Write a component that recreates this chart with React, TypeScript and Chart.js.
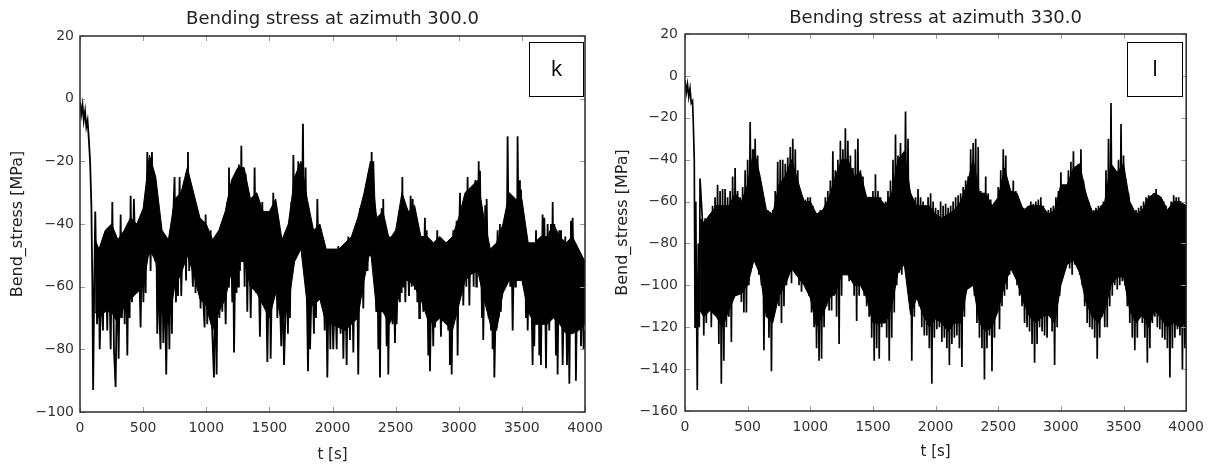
import React, { useEffect, useRef } from "react";
import { Chart, registerables } from "chart.js";

Chart.register(...registerables);

const FONT = "'DejaVu Sans', 'Liberation Sans', sans-serif";

const X_TICKS = [0, 500, 1000, 1500, 2000, 2500, 3000, 3500, 4000];
const LEFT_Y_TICKS = [-100, -80, -60, -40, -20, 0, 20];
const RIGHT_Y_TICKS = [-160, -140, -120, -100, -80, -60, -40, -20, 0, 20];

// ---- azimuth 300.0 (left panel): time [s] and bending stress [MPa]
const leftT = [
  0, 10, 20, 30, 40, 50, 60, 70, 80, 90,
  98, 104, 114, 121, 135, 148, 156, 170, 182, 190,
  200, 216, 227, 243, 256, 269, 282, 295, 306, 322,
  332, 340, 354, 365, 375, 385, 393, 401, 412, 427,
  437, 446, 459, 470, 480, 491, 502, 512, 520, 533,
  543, 551, 559, 570, 580, 586, 596, 604, 612, 622,
  630, 638, 649, 660, 670, 683, 697, 708, 718, 728,
  738, 749, 760, 770, 776, 789, 802, 815, 828, 840,
  848, 855, 865, 874, 881, 894, 905, 915, 925, 935,
  944, 955, 966, 977, 987, 995, 1008, 1021, 1028, 1035,
  1048, 1061, 1072, 1082, 1093, 1104, 1114, 1127, 1137, 1154,
  1167, 1174, 1180, 1187, 1193, 1206, 1213, 1220, 1233, 1240,
  1246, 1254, 1259, 1267, 1278, 1286, 1294, 1304, 1312, 1325,
  1338, 1352, 1365, 1373, 1383, 1396, 1410, 1425, 1444, 1457,
  1468, 1484, 1502, 1510, 1531, 1542, 1550, 1563, 1576, 1594,
  1605, 1616, 1637, 1647, 1655, 1663, 1674, 1682, 1690, 1700,
  1708, 1719, 1729, 1737, 1748, 1758, 1766, 1774, 1787, 1796,
  1806, 1816, 1822, 1840, 1853, 1858, 1869, 1880, 1893, 1906,
  1919, 1927, 1938, 1948, 1959, 1972, 1983, 1990, 2006, 2020,
  2033, 2046, 2064, 2075, 2086, 2099, 2112, 2125, 2138, 2152,
  2165, 2178, 2186, 2191, 2204, 2218, 2224, 2231, 2244, 2257,
  2265, 2270, 2278, 2284, 2292, 2297, 2305, 2310, 2318, 2323,
  2336, 2346, 2356, 2363, 2370, 2376, 2389, 2397, 2402, 2409,
  2416, 2429, 2437, 2442, 2455, 2463, 2468, 2476, 2482, 2495,
  2502, 2508, 2526, 2534, 2540, 2548, 2553, 2561, 2566, 2577,
  2587, 2606, 2619, 2627, 2635, 2653, 2666, 2672, 2680, 2687,
  2693, 2700, 2706, 2712, 2719, 2732, 2739, 2746, 2759, 2765,
  2772, 2785, 2798, 2805, 2812, 2830, 2838, 2846, 2859, 2870,
  2878, 2891, 2898, 2904, 2917, 2925, 2930, 2938, 2944, 2957,
  2970, 2983, 2991, 3000, 3010, 3018, 3026, 3036, 3052, 3060,
  3070, 3084, 3097, 3105, 3110, 3118, 3123, 3128, 3131, 3139,
  3144, 3152, 3158, 3163, 3168, 3184, 3189, 3194, 3210, 3216,
  3221, 3237, 3245, 3255, 3263, 3268, 3276, 3282, 3295, 3308,
  3316, 3326, 3334, 3342, 3348, 3353, 3361, 3369, 3379, 3387,
  3395, 3400, 3408, 3418, 3427, 3440, 3448, 3453, 3461, 3466,
  3474, 3480, 3485, 3493, 3501, 3506, 3519, 3527, 3532, 3540,
  3546, 3554, 3559, 3572, 3585, 3593, 3598, 3612, 3625, 3633,
  3638, 3646, 3651, 3664, 3672, 3678, 3691, 3704, 3717, 3730,
  3738, 3744, 3751, 3757, 3770, 3778, 3783, 3796, 3804, 3810,
  3823, 3836, 3844, 3857, 3868, 3876, 3889, 3897, 3902, 3915,
  3923, 3928, 3942, 3955, 3960, 3968, 3981, 3989, 4000,
];
const leftV = [
  -1, -5, -2, -7, -4, -9, -7, -13, -20, -34,
  -60, -93, -55, -36, -72, -50, -80, -58, -74, -52,
  -43, -74, -46, -80, -33, -80, -92, -52, -83, -37,
  -70, -46, -72, -50, -82, -45, -70, -31, -65, -32,
  -48, -61, -40, -55, -73, -44, -65, -40, -62, -17,
  -50, -20, -55, -17, -45, -24, -52, -38, -75, -45,
  -70, -80, -45, -78, -55, -88, -50, -80, -42, -75,
  -38, -25, -65, -35, -63, -25, -63, -40, -29, -58,
  -35, -17, -55, -28, -45, -60, -35, -62, -40, -55,
  -40, -67, -42, -65, -73, -37, -72, -48, -70, -42,
  -75, -89, -55, -88, -43, -70, -50, -68, -45, -72,
  -33, -60, -22, -55, -33, -65, -45, -81, -42, -62,
  -30, -60, -21, -55, -15, -50, -29, -60, -24, -68,
  -35, -70, -35, -60, -22, -62, -40, -76, -33, -65,
  -42, -84, -39, -83, -30, -62, -34, -70, -53, -79,
  -58, -85, -55, -75, -52, -70, -33, -55, -18, -48,
  -26, -50, -20, -45, -22, -40, -8, -50, -22, -60,
  -87, -55, -80, -52, -75, -45, -70, -32, -62, -43,
  -60, -45, -74, -52, -89, -52, -80, -53, -80, -58,
  -80, -47, -75, -52, -83, -50, -85, -44, -77, -48,
  -81, -41, -65, -41, -88, -35, -60, -40, -67, -29,
  -55, -30, -55, -24, -50, -23, -48, -17, -45, -20,
  -38, -68, -50, -80, -55, -89, -35, -65, -32, -62,
  -41, -79, -55, -88, -44, -70, -47, -72, -50, -78,
  -55, -72, -44, -65, -37, -62, -25, -60, -36, -65,
  -41, -63, -31, -60, -32, -61, -43, -65, -42, -70,
  -55, -45, -64, -50, -68, -38, -65, -42, -82, -55,
  -87, -52, -79, -55, -73, -42, -70, -47, -76, -50,
  -71, -46, -70, -50, -74, -55, -85, -55, -88, -42,
  -70, -39, -82, -50, -30, -62, -39, -66, -33, -60,
  -25, -66, -33, -55, -28, -60, -38, -55, -26, -60,
  -33, -55, -20, -50, -23, -70, -50, -77, -34, -60,
  -32, -70, -50, -74, -55, -80, -60, -89, -62, -42,
  -70, -40, -68, -42, -62, -41, -60, -39, -55, -12,
  -45, -31, -60, -45, -74, -39, -60, -35, -55, -12,
  -45, -26, -50, -29, -55, -36, -58, -45, -70, -50,
  -74, -55, -67, -52, -85, -58, -79, -42, -72, -55,
  -82, -55, -85, -37, -62, -38, -86, -40, -74, -40,
  -62, -33, -62, -40, -82, -55, -88, -42, -65, -42,
  -85, -55, -44, -85, -60, -91, -39, -65, -38, -74,
  -55, -90, -48, -70, -50, -79, -55, -80, -74,
];

// times at which the dense (solid black) core of each trace was read
const coreT = [
  120, 150, 200, 250, 300, 350, 400, 450, 500, 550,
  600, 650, 700, 750, 800, 850, 900, 950, 1000, 1050,
  1100, 1150, 1200, 1250, 1300, 1350, 1400, 1450, 1500, 1550,
  1600, 1650, 1700, 1750, 1800, 1850, 1900, 1950, 2000, 2050,
  2100, 2150, 2200, 2250, 2300, 2350, 2400, 2450, 2500, 2550,
  2600, 2650, 2700, 2750, 2800, 2850, 2900, 2950, 3000, 3050,
  3100, 3150, 3200, 3250, 3300, 3350, 3400, 3450, 3500, 3550,
  3600, 3650, 3700, 3750, 3800, 3850, 3900, 3950, 4000,
];
const leftCoreTop = [
  -45, -48, -42, -40, -45, -42, -38, -40, -35, -18,
  -25, -42, -45, -32, -30, -22, -30, -38, -40, -45,
  -42, -36, -26, -22, -22, -32, -30, -36, -36, -32,
  -45, -40, -25, -20, -32, -42, -40, -48, -48, -48,
  -46, -44, -38, -30, -20, -38, -36, -45, -42, -30,
  -36, -34, -44, -44, -46, -44, -46, -44, -38, -30,
  -28, -26, -38, -48, -46, -40, -30, -32, -32, -46,
  -46, -44, -44, -40, -44, -46, -44, -48, -52,
];
const leftCoreBottom = [
  -68, -70, -68, -68, -72, -66, -64, -62, -60, -48,
  -52, -68, -72, -60, -56, -50, -56, -64, -66, -74,
  -68, -64, -55, -52, -52, -60, -62, -66, -70, -62,
  -72, -66, -52, -48, -66, -66, -64, -72, -72, -73,
  -74, -72, -70, -58, -48, -68, -68, -72, -68, -58,
  -58, -60, -64, -70, -72, -70, -72, -74, -66, -58,
  -56, -55, -64, -72, -74, -62, -58, -58, -58, -68,
  -72, -72, -72, -70, -72, -75, -75, -74, -72,
];

// ---- azimuth 330.0 (right panel)
// start-up transient
const rightStartT = [0, 10, 20, 30, 40, 50, 60, 66, 74, 80, 86, 92, 98, 106, 114, 120];
const rightStartV = [-2, -8, -4, -10, -6, -13, -12, -22, -40, -120, -60, -110, -150, -80, -120, -49];
// every 20 s from 140 s to 3980 s: upper and lower excursion of the signal in that slot
const rightSlotStart = 140;
const rightSlotStep = 20;
const rightUpper = [
  -70, -68, -69, -66, -62, -58, -52, -55, -54, -54,
  -58, -55, -48, -44, -55, -58, -53, -45, -40, -22,
  -35, -30, -38, -52, -58, -62, -64, -66, -64, -55,
  -41, -40, -40, -42, -39, -34, -30, -35, -45, -56,
  -58, -59, -58, -58, -62, -65, -66, -64, -64, -58,
  -55, -50, -36, -45, -40, -31, -35, -25, -31, -38,
  -44, -35, -30, -45, -48, -58, -62, -58, -55, -47,
  -55, -58, -62, -60, -55, -50, -40, -28, -38, -32,
  -38, -17, -30, -56, -64, -58, -54, -58, -60, -62,
  -58, -56, -60, -63, -64, -60, -62, -61, -63, -62,
  -60, -58, -57, -56, -53, -50, -48, -35, -32, -30,
  -34, -55, -56, -48, -56, -59, -62, -60, -53, -45,
  -35, -38, -52, -55, -50, -55, -60, -62, -63, -64,
  -62, -60, -61, -60, -59, -58, -62, -66, -64, -63,
  -62, -58, -55, -46, -55, -57, -45, -41, -36, -44,
  -42, -35, -50, -56, -60, -63, -64, -63, -62, -62,
  -60, -45, -30, -13, -50, -47, -40, -23, -38, -50,
  -56, -62, -65, -64, -63, -62, -60, -58, -57, -58,
  -56, -54, -57, -58, -60, -62, -64, -60, -57, -58,
  -58, -60, -62,
];
const rightLower = [
  -124, -118, -110, -120, -112, -105, -128, -147, -136, -120,
  -115, -127, -105, -105, -91, -108, -113, -113, -100, -90,
  -85, -88, -95, -100, -131, -115, -125, -141, -110, -105,
  -110, -118, -110, -100, -95, -99, -92, -95, -100, -103,
  -98, -100, -105, -113, -120, -130, -136, -135, -120, -110,
  -112, -112, -105, -115, -128, -105, -95, -95, -98, -95,
  -105, -117, -105, -100, -105, -110, -115, -125, -136, -130,
  -135, -120, -115, -125, -136, -125, -113, -100, -94, -95,
  -90, -92, -100, -136, -115, -105, -110, -120, -124, -124,
  -130, -147, -125, -121, -120, -127, -125, -130, -138, -128,
  -125, -124, -130, -139, -115, -100, -100, -99, -105, -118,
  -125, -130, -145, -130, -124, -141, -125, -113, -121, -110,
  -105, -102, -95, -92, -90, -100, -105, -110, -118, -120,
  -122, -128, -137, -128, -120, -122, -124, -125, -115, -122,
  -138, -120, -105, -95, -83, -90, -92, -95, -90, -89,
  -95, -100, -110, -118, -120, -121, -125, -135, -125, -115,
  -120, -120, -110, -105, -100, -102, -100, -98, -100, -110,
  -118, -125, -131, -125, -115, -118, -125, -137, -130, -118,
  -115, -120, -121, -125, -126, -130, -144, -130, -125, -121,
  -124, -140, -130,
];
const rightEndT = [4000];
const rightEndV = [-95];
const rightCoreTop = [
  -68, -70, -66, -62, -62, -62, -56, -60, -52, -35,
  -48, -64, -66, -52, -48, -40, -50, -60, -60, -66,
  -64, -58, -48, -40, -40, -48, -46, -58, -58, -58,
  -62, -56, -40, -36, -56, -62, -62, -62, -66, -68,
  -66, -64, -60, -52, -40, -56, -56, -62, -58, -44,
  -55, -56, -64, -62, -62, -62, -66, -64, -52, -52,
  -44, -42, -56, -65, -64, -60, -42, -46, -42, -60,
  -66, -64, -58, -56, -58, -64, -60, -60, -62,
];
const rightCoreBottom = [
  -112, -115, -112, -115, -120, -112, -105, -104, -100, -88,
  -95, -115, -118, -105, -100, -92, -96, -100, -106, -120,
  -114, -106, -104, -95, -95, -100, -100, -106, -118, -118,
  -118, -110, -94, -90, -114, -106, -114, -120, -116, -118,
  -122, -118, -118, -102, -100, -118, -122, -120, -112, -100,
  -92, -98, -108, -115, -118, -115, -114, -118, -100, -90,
  -88, -94, -108, -115, -118, -112, -100, -96, -96, -112,
  -118, -114, -120, -112, -116, -120, -118, -120, -118,
];

function fmt(v: number): string {
  return v < 0 ? "\u2212" + Math.abs(v) : String(v);
}

function toPts(ts: number[], vs: number[]) {
  return ts.map((t, i) => ({ x: t, y: vs[i] }));
}

function rightPoints() {
  const pts: { x: number; y: number }[] = [];
  rightStartT.forEach((t, i) => pts.push({ x: t, y: rightStartV[i] }));
  rightUpper.forEach((u, i) => {
    const t = rightSlotStart + i * rightSlotStep;
    pts.push({ x: t, y: u });
    pts.push({ x: t + rightSlotStep / 2, y: rightLower[i] });
  });
  rightEndT.forEach((t, i) => pts.push({ x: t, y: rightEndV[i] }));
  return pts;
}

const framePlugin = {
  id: "frameBox",
  afterDraw(chart: any, _args: any, opts: any) {
    const { ctx, chartArea: a, scales } = chart;
    ctx.save();
    ctx.strokeStyle = "#9a9a9a";
    ctx.lineWidth = 1;
    ctx.beginPath();
    for (const v of opts.xTicks) {
      const p = Math.round(scales.x.getPixelForValue(v)) + 0.5;
      ctx.moveTo(p, a.bottom);
      ctx.lineTo(p, a.bottom - 5);
      ctx.moveTo(p, a.top);
      ctx.lineTo(p, a.top + 5);
    }
    for (const v of opts.yTicks) {
      const p = Math.round(scales.y.getPixelForValue(v)) + 0.5;
      ctx.moveTo(a.left, p);
      ctx.lineTo(a.left + 5, p);
      ctx.moveTo(a.right, p);
      ctx.lineTo(a.right - 5, p);
    }
    ctx.stroke();
    ctx.strokeStyle = "#2a2a2a";
    ctx.lineWidth = 1.5;
    ctx.strokeRect(a.left, a.top, a.right - a.left, a.bottom - a.top);
    const b = opts.box;
    ctx.fillStyle = "#fff";
    ctx.fillRect(b.x, b.y, b.w, b.h);
    ctx.strokeStyle = "#000";
    ctx.lineWidth = 1;
    ctx.strokeRect(b.x + 0.5, b.y + 0.5, b.w, b.h);
    ctx.fillStyle = "#000";
    ctx.font = "22px 'Open Sans', 'Liberation Sans', sans-serif";
    ctx.textAlign = "center";
    ctx.textBaseline = "middle";
    ctx.fillText(opts.letter, b.x + b.w / 2 + 0.5, b.y + b.h / 2 + 1);
    ctx.restore();
  },
};

type Panel = {
  title: string;
  letter: string;
  points: { x: number; y: number }[];
  coreTop: { x: number; y: number }[];
  coreBottom: { x: number; y: number }[];
  lineWidth: number;
  yMin: number;
  yMax: number;
  yTicks: number[];
  padRight: number;
  titlePadTop: number;
  titlePadBottom: number;
  yWidth: number;
  xHeight: number;
  yTickPad: number;
  yTitlePad: number;
  xTitlePad: number;
  box: { x: number; y: number; w: number; h: number };
};

function makeConfig(p: Panel): any {
  return {
    type: "line",
    data: {
      datasets: [
        {
          data: p.points,
          borderColor: "#000",
          borderWidth: p.lineWidth,
          borderJoinStyle: "miter",
          pointRadius: 0,
          tension: 0,
          fill: false,
          order: 0,
        },
        {
          data: p.coreTop,
          borderColor: "#000",
          borderWidth: 1,
          backgroundColor: "#000",
          pointRadius: 0,
          tension: 0,
          fill: "+1",
          order: 1,
        },
        {
          data: p.coreBottom,
          borderColor: "#000",
          borderWidth: 1,
          pointRadius: 0,
          tension: 0,
          fill: false,
          order: 2,
        },
      ],
    },
    options: {
      animation: false,
      responsive: false,
      maintainAspectRatio: false,
      devicePixelRatio: 1,
      parsing: false,
      layout: { padding: { left: 0, right: p.padRight, top: 0, bottom: 0 } },
      plugins: {
        legend: { display: false },
        tooltip: { enabled: false },
        title: {
          display: true,
          text: p.title,
          fullSize: false,
          color: "#222",
          font: { family: FONT, size: 18, weight: "normal", lineHeight: 1.2 },
          padding: { top: p.titlePadTop, bottom: p.titlePadBottom },
        },
        frameBox: { xTicks: X_TICKS, yTicks: p.yTicks, letter: p.letter, box: p.box },
      },
      scales: {
        x: {
          type: "linear",
          min: 0,
          max: 4000,
          afterBuildTicks: (s: any) => {
            s.ticks = X_TICKS.map((v) => ({ value: v }));
          },
          afterFit: (s: any) => {
            s.height = p.xHeight;
          },
          grid: { display: false, drawTicks: false },
          border: { display: false },
          ticks: {
            color: "#333",
            font: { family: FONT, size: 14 },
            padding: 8,
            maxRotation: 0,
            autoSkip: false,
            callback: (v: any) => fmt(Number(v)),
          },
          title: {
            display: true,
            text: "t [s]",
            color: "#222",
            font: { family: FONT, size: 15, lineHeight: 1.2 },
            padding: { top: 0, bottom: p.xTitlePad },
          },
        },
        y: {
          type: "linear",
          min: p.yMin,
          max: p.yMax,
          afterBuildTicks: (s: any) => {
            s.ticks = p.yTicks.map((v) => ({ value: v }));
          },
          afterFit: (s: any) => {
            s.width = p.yWidth;
          },
          grid: { display: false, drawTicks: false },
          border: { display: false },
          ticks: {
            color: "#333",
            font: { family: FONT, size: 14 },
            padding: p.yTickPad,
            autoSkip: false,
            callback: (v: any) => fmt(Number(v)),
          },
          title: {
            display: true,
            text: "Bend_stress [MPa]",
            color: "#222",
            font: { family: FONT, size: 16, lineHeight: 1.2 },
            padding: { top: p.yTitlePad, bottom: 0 },
          },
        },
      },
    },
    plugins: [framePlugin],
  };
}

export default function App() {
  const leftRef = useRef<HTMLCanvasElement>(null);
  const rightRef = useRef<HTMLCanvasElement>(null);

  useEffect(() => {
    const c1 = new Chart(
      leftRef.current as HTMLCanvasElement,
      makeConfig({
        title: "Bending stress at azimuth 300.0",
        letter: "k",
        points: toPts(leftT, leftV),
        coreTop: toPts(coreT, leftCoreTop),
        coreBottom: toPts(coreT, leftCoreBottom),
        lineWidth: 1.8,
        yMin: -100,
        yMax: 20,
        yTicks: LEFT_Y_TICKS,
        padRight: 35,
        titlePadTop: 8.7,
        titlePadBottom: 5.7,
        yWidth: 80,
        xHeight: 53,
        yTickPad: 6,
        yTitlePad: 7.9,
        xTitlePad: 1,
        box: { x: 529, y: 42, w: 54, h: 54 },
      })
    );
    const c2 = new Chart(
      rightRef.current as HTMLCanvasElement,
      makeConfig({
        title: "Bending stress at azimuth 330.0",
        letter: "l",
        points: rightPoints(),
        coreTop: toPts(coreT, rightCoreTop),
        coreBottom: toPts(coreT, rightCoreBottom),
        lineWidth: 1.7,
        yMin: -160,
        yMax: 20,
        yTicks: RIGHT_Y_TICKS,
        padRight: 25,
        titlePadTop: 7.2,
        titlePadBottom: 5.2,
        yWidth: 85,
        xHeight: 54,
        yTickPad: 7,
        yTitlePad: 12.9,
        xTitlePad: 4,
        box: { x: 527, y: 42, w: 55, h: 54 },
      })
    );
    return () => {
      c1.destroy();
      c2.destroy();
    };
  }, []);

  return (
    <div
      style={{
        position: "absolute",
        left: 0,
        top: 0,
        width: 1212,
        height: 465,
        background: "#fff",
        overflow: "hidden",
      }}
    >
      <canvas
        ref={leftRef}
        width={620}
        height={465}
        style={{ position: "absolute", left: 0, top: 0, width: 620, height: 465 }}
      />
      <canvas
        ref={rightRef}
        width={612}
        height={465}
        style={{ position: "absolute", left: 600, top: 0, width: 612, height: 465 }}
      />
    </div>
  );
}
